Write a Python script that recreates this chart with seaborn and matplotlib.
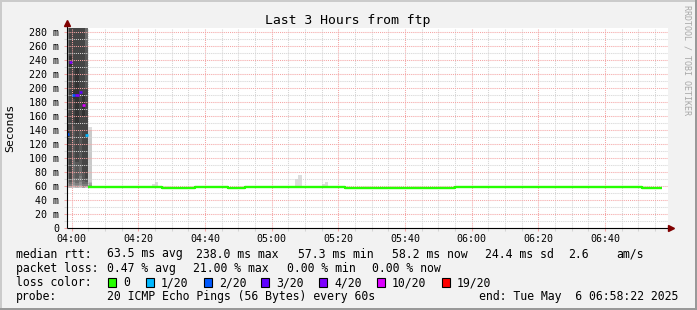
import numpy as np
import pandas as pd
import matplotlib
matplotlib.use("Agg")
import matplotlib.pyplot as plt
from matplotlib.patches import Rectangle
import seaborn as sns

# ---------------- data ----------------
title = "Last 3 Hours from ftp"
y_label = "Seconds"
watermark = "RRDTOOL / TOBI OETIKER"

x_tick_min = [0, 20, 40, 60, 80, 100, 120, 140, 160]          # minutes after 04:00
x_tick_labels = ["04:00", "04:20", "04:40", "05:00", "05:20",
                 "05:40", "06:00", "06:20", "06:40"]
y_ticks = [0, 20, 40, 60, 80, 100, 120, 140, 160, 180, 200, 220, 240, 260, 280]
y_tick_labels = ["0", "20 m", "40 m", "60 m", "80 m", "100 m", "120 m", "140 m",
                 "160 m", "180 m", "200 m", "220 m", "240 m", "260 m", "280 m"]

# smoke steps at the start of the window (minutes after 04:00)
smoke_t0 = [-1.5, -0.7, 0.1, 1.1, 2.1, 3.1, 4.0, 5.0]
smoke_t1 = [-0.7, 0.1, 1.1, 2.1, 3.1, 4.0, 5.0, 6.0]
smoke_loss = [2, 4, 2, 4, 3, 6, 1, 0]       # lost pings out of 20
smoke_pings = [                             # received ping RTTs (ms)
    [58, 59, 61, 64, 70, 82, 100, 118, 128, 140, 150, 165, 190, 300, 380, 460, 560, 700],
    [58, 59, 60, 61, 63, 66, 70, 230, 246, 320, 380, 450, 520, 600, 700, 800],
    [58, 59, 60, 62, 66, 72, 99, 146, 185, 197, 290, 330, 380, 440, 510, 590, 680, 780],
    [58, 59, 60, 62, 65, 72, 95, 150, 230, 290, 340, 400, 470, 550, 640, 740],
    [58, 59, 60, 62, 66, 74, 90, 140, 195, 300, 350, 410, 480, 560, 650, 750, 850],
    [58, 59, 60, 63, 68, 80, 160, 192, 300, 360, 430, 510, 600, 700],
    [58, 58, 59, 59, 60, 61, 63, 66, 72, 133, 200, 260, 310, 360, 420, 490, 570, 660, 760],
    [57.5, 58, 58, 58.5, 58.5, 59, 59, 59.2, 59.5, 59.6, 59.6, 59.8, 60, 60.5, 61, 62,
     64, 66, 140, 145],
]
# small smoke spikes later on (minute, max rtt ms)
spike_t = [24, 25, 67, 68, 75, 76]
spike_top = [63.0, 65.7, 70.0, 76.6, 63.0, 66.0]
spike_base = 58.0

# median rtt (0 loss) step line
median_t = [5, 27, 37, 47, 52, 82, 109, 115, 130, 156, 161, 171, 177]
median_v = [59.6, 58.2, 59.6, 58.2, 59.6, 58.2, 57.3, 58.6, 59.6, 58.6, 59.6, 58.2, 58.2]

loss_thresholds = [0, 1, 2, 3, 4, 10, 19]
loss_labels = ["0", "1/20", "2/20", "3/20", "4/20", "10/20", "19/20"]
loss_colors = ["#26ff00", "#00b8ff", "#0059ff", "#5e00ff", "#7e00ff", "#dd00ff", "#ff0000"]

row1 = ["median rtt:", "63.5 ms avg", "238.0 ms max", "57.3 ms min",
        "58.2 ms now", "24.4 ms sd", "2.6", "am/s"]
row2 = ["packet loss:", "0.47 % avg", "21.00 % max", "0.00 % min", "0.00 % now"]
row3_head = "loss color:"
row4 = ["probe:", "20 ICMP Echo Pings (56 Bytes) every 60s", "end: Tue May  6 06:58:22 2025"]

# ---------------- layout ----------------
W, H = 697, 310
BG = "#f2f2f2"
MONO = "DejaVu Sans Mono"
plt.rcParams["font.family"] = [MONO, "DejaVu Sans"]

fig = plt.figure(figsize=(W / 100, H / 100), dpi=100, facecolor=BG)


def fx(px):
    return px / W


def fy(py):
    return 1 - py / H


L, R, T, B = 66.7, 668.0, 28.0, 228.3
ax = fig.add_axes([fx(L), fy(B), (R - L) / W, (B - T) / H])
ax.set_facecolor("white")
XMIN, XMAX, YMAX = -1.5, 178.9, 286.0
ax.set_xlim(XMIN, XMAX)
ax.set_ylim(0, YMAX)


def loss_color(loss):
    for thr, col in zip(loss_thresholds, loss_colors):
        if loss <= thr:
            return col
    return loss_colors[-1]


# smoke (smokeping style: pairs of sorted pings, darker towards the middle)
for k, (t0, t1, loss, pings) in enumerate(zip(smoke_t0, smoke_t1, smoke_loss, smoke_pings)):
    p = sorted(pings)
    n = len(p)
    off = loss // 2
    for i in range(n // 2):
        idx = min(i + 1 + off, 10)
        g = 50 + int(190 / 10 * (10 - idx))
        col = "#%02x%02x%02x" % (g, g, g)
        ax.bar(t0, p[n - 1 - i] - p[i], bottom=p[i], width=t1 - t0, align="edge",
               color=col, linewidth=0, zorder=1)
    if loss > 0:
        ax.hlines(np.median(p), t0, t1, colors=loss_color(loss), lw=1.9, zorder=4)

for t, top in zip(spike_t, spike_top):
    ax.bar(t, top - spike_base, bottom=spike_base, width=1.0, align="edge",
           color="#dddddd", linewidth=0, zorder=1)

df = pd.DataFrame({"t": median_t, "rtt": median_v})
sns.lineplot(data=df, x="t", y="rtt", drawstyle="steps-post", color=loss_colors[0],
             lw=1.7, ax=ax, zorder=4, solid_capstyle="butt")
ax.set_xlabel("")
ax.set_ylabel("")

# grid & ticks
ax.set_xticks(x_tick_min)
ax.set_xticklabels(x_tick_labels)
ax.set_xticks(np.arange(0, 180, 5), minor=True)
ax.set_yticks(y_ticks)
ax.set_yticklabels(y_tick_labels)
ax.set_yticks(np.arange(10, 286, 20), minor=True)
MG = "#f4a4a4"
mg = "#d4d4d4"
ax.grid(which="major", color=MG, linestyle=(0, (1, 1)), linewidth=0.75)
ax.grid(which="minor", color=mg, linestyle=(0, (1, 1)), linewidth=0.75)
ax.set_axisbelow(False)
ax.tick_params(which="major", length=2, width=0.75, color=MG, labelsize=7.2,
               labelcolor="black")
ax.tick_params(which="minor", length=2, width=0.75, color=mg)
ax.tick_params(axis="y", pad=3.4)
ax.tick_params(axis="x", pad=1.8)
for lab in ax.get_xticklabels() + ax.get_yticklabels():
    lab.set_family(MONO)
for s in ax.spines.values():
    s.set_visible(False)

# axis lines with arrows
xa_end = (671 - L) / (R - L)
ya_end = (B - 23.0) / (B - T)
ax.plot([0, xa_end], [0, 0], color="black", lw=0.8, transform=ax.transAxes,
        clip_on=False, zorder=6, solid_capstyle="butt")
ax.plot([0, 0], [0, ya_end], color="black", lw=0.8, transform=ax.transAxes,
        clip_on=False, zorder=6, solid_capstyle="butt")
ax.plot([xa_end], [0], marker=">", color="#800000", ms=4.2, transform=ax.transAxes,
        clip_on=False, zorder=7)
ax.plot([0], [ya_end], marker="^", color="#800000", ms=4.2, transform=ax.transAxes,
        clip_on=False, zorder=7)

# texts
fig.text(fx(347.5), fy(24), title, ha="center", va="baseline", fontsize=9.45,
         family=MONO, color="black")
fig.text(fx(10.5), fy(128), y_label, rotation=90, ha="center", va="center",
         fontsize=8.25, family=MONO, color="black")
fig.text(fx(687.5), fy(60), watermark, rotation=270, ha="center", va="center",
         fontsize=6.0, family=MONO, color="#a8a8a8")

LF = 8.3
row1_x = [16, 107, 196, 298, 392, 485, 568, 616]
for s, x in zip(row1, row1_x):
    fig.text(fx(x), fy(257.5), s, ha="left", va="baseline", fontsize=LF, family=MONO)
row2_x = [16, 107, 193, 287, 372]
for s, x in zip(row2, row2_x):
    fig.text(fx(x), fy(271.7), s, ha="left", va="baseline", fontsize=LF, family=MONO)
fig.text(fx(16), fy(286), row3_head, ha="left", va="baseline", fontsize=LF, family=MONO)
sq_x = [108, 146, 204, 261, 319, 377, 442]
for x, lab, col in zip(sq_x, loss_labels, loss_colors):
    fig.add_artist(Rectangle((fx(x), fy(286.5)), 8 / W, 8.5 / H, transform=fig.transFigure,
                             facecolor=col, edgecolor="black", linewidth=0.8))
    fig.text(fx(x + 15), fy(286), lab, ha="left", va="baseline", fontsize=LF, family=MONO)
row4_x = [16, 107, 479]
for s, x in zip(row4, row4_x):
    fig.text(fx(x), fy(300.2), s, ha="left", va="baseline", fontsize=LF, family=MONO)

# 3D frame
fig.add_artist(Rectangle((0, 1 - 2 / H), 1, 2 / H, transform=fig.transFigure,
                         color="#cbcbcb", linewidth=0))
fig.add_artist(Rectangle((0, 0), 2 / W, 1, transform=fig.transFigure,
                         color="#cbcbcb", linewidth=0))
fig.add_artist(Rectangle((1 - 2 / W, 0), 2 / W, 1, transform=fig.transFigure,
                         color="#999999", linewidth=0))
fig.add_artist(Rectangle((0, 0), 1, 2 / H, transform=fig.transFigure,
                         color="#999999", linewidth=0))

fig.savefig("out.png", dpi=100, facecolor=BG)
